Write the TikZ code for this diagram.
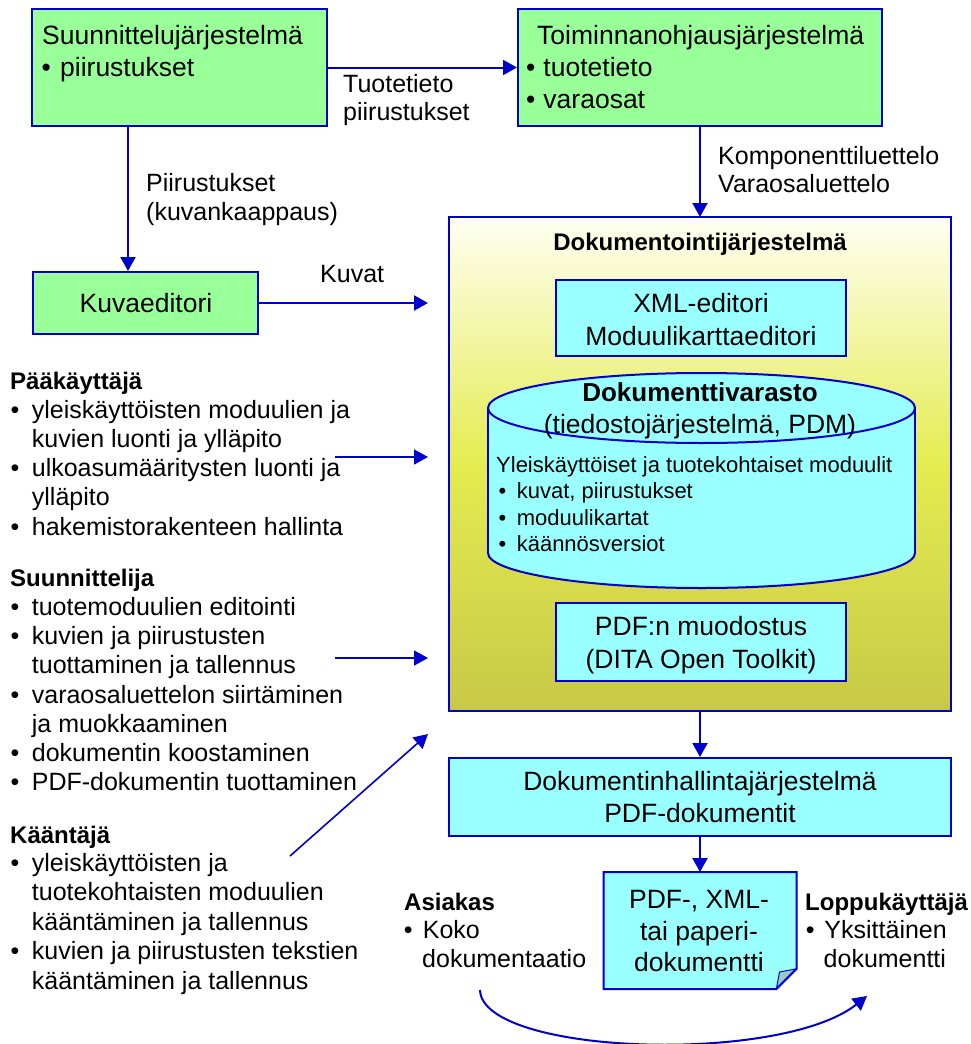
\documentclass[tikz,border=0pt]{standalone}
\usepackage{fontspec}
\setmainfont{Liberation Sans}
\usetikzlibrary{arrows.meta,calc}

\definecolor{lineblue}{RGB}{0,0,204}
\definecolor{boxgreen}{RGB}{153,255,153}
\definecolor{boxcyan}{RGB}{153,255,255}
\definecolor{gradtop}{RGB}{255,255,242}
\definecolor{gradmid}{RGB}{228,236,80}
\definecolor{gradbot}{RGB}{200,200,70}
\definecolor{foldteal}{RGB}{150,205,200}

\newcommand\setfs[1]{\fontsize{#1}{#1}\selectfont}
\newcommand\bulletbox[1]{\makebox[#1pt][l]{•}}

\begin{document}
\begin{tikzpicture}[x=1pt,y=-1pt,
  box/.style={draw=lineblue, line width=2pt, inner sep=0, rectangle},
  greenbox/.style={box, fill=boxgreen},
  cyanbox/.style={box, fill=boxcyan},
  flow/.style={draw=lineblue, line width=2pt, -{Triangle[length=14pt,width=15pt]}},
  thinflow/.style={draw=lineblue, line width=1.6pt, -{Triangle[length=14pt,width=15pt]}},
  txt/.style={inner sep=0, anchor=base west, font=\setfs{25}},
  boxtxt/.style={inner sep=0, anchor=base west, font=\setfs{26.5}},
  ctxt/.style={inner sep=0, anchor=base, font=\setfs{26.5}},
  head/.style={inner sep=0, anchor=base west, font=\setfs{24}\bfseries},
  small/.style={inner sep=0, anchor=base west, font=\setfs{22}},
]
\useasboundingbox (0,0) rectangle (971,1044);

% ---------- upper systems ----------
\node[greenbox, minimum width=295pt, minimum height=117pt] (suun) at (179.5,67.5) {};
\node[boxtxt] (suun1) at (42,44.3) {Suunnittelujärjestelmä};
\node[boxtxt] (suun2) at (41.3,76) {\bulletbox{18.7}piirustukset};

\node[greenbox, minimum width=364pt, minimum height=116.5pt] (toim) at (700,67.25) {};
\node[boxtxt] (toim1) at (537,44.3) {Toiminnanohjausjärjestelmä};
\node[boxtxt] (toim2) at (526,76.7) {\bulletbox{17.3}tuotetieto};
\node[boxtxt] (toim3) at (526,108.3) {\bulletbox{17.3}varaosat};

\node[greenbox, minimum width=225pt, minimum height=62pt] (kuva) at (145.5,303) {};
\node[ctxt] (kuvatxt) at (146,312.7) {Kuvaeditori};

% ---------- documentation system ----------
\node[inner sep=0, outer sep=0, minimum width=502pt, minimum height=494pt] (dok) at (700,464) {};
\fill[top color=gradtop, bottom color=gradmid] (dok.north west) rectangle (dok.east);
\fill[top color=gradmid, bottom color=gradbot] ([yshift=0.5pt]dok.west) rectangle (dok.south east);
\draw[lineblue, line width=2pt] (dok.north west) rectangle (dok.south east);
\node[inner sep=0, anchor=base, font=\setfs{24}\bfseries] (doktitle) at (700,250) {Dokumentointijärjestelmä};

\node[cyanbox, minimum width=290pt, minimum height=76pt] (xml) at (701,318) {};
\node[ctxt] (xml1) at (701,312.7) {XML-editori};
\node[ctxt] (xml2) at (701,345) {Moduulikarttaeditori};

% document store drawn as a cylinder
\begin{scope}[line width=2pt]
  \filldraw[fill=boxcyan, draw=lineblue] (701.5,553) ellipse [x radius=213.5, y radius=35];
  \fill[boxcyan] (488,408) rectangle (915,553);
  \draw[lineblue] (488,408) -- (488,553) (915,408) -- (915,553);
  \filldraw[fill=boxcyan, draw=lineblue] (701.5,408) ellipse [x radius=213.5, y radius=35];
\end{scope}
\node[inner sep=0, anchor=base, font=\setfs{26}\bfseries] (var1) at (700,401.7) {Dokumenttivarasto};
\node[ctxt] (var2) at (700,433.3) {(tiedostojärjestelmä, PDM)};
\node[small] (var3) at (496,472.7) {Yleiskäyttöiset ja tuotekohtaiset moduulit};
\node[small] (var4) at (498.5,498.5) {\bulletbox{18.1}kuvat, piirustukset};
\node[small] (var5) at (498.5,525.3) {\bulletbox{18.1}moduulikartat};
\node[small] (var6) at (498.5,551.7) {\bulletbox{18.1}käännösversiot};

\node[cyanbox, minimum width=290pt, minimum height=78pt] (pdf) at (701,642) {};
\node[ctxt] (pdf1) at (701,635.7) {PDF:n muodostus};
\node[ctxt] (pdf2) at (701,668.3) {(DITA Open Toolkit)};

% ---------- document management and output ----------
\node[cyanbox, minimum width=502pt, minimum height=78pt] (dh) at (700,797) {};
\node[ctxt] (dh1) at (700,790.7) {Dokumentinhallintajärjestelmä};
\node[ctxt] (dh2) at (700,822.7) {PDF-dokumentit};

\node[inner sep=0, outer sep=0, minimum width=193pt, minimum height=117pt] (doc) at (700,930.5) {};
\filldraw[fill=boxcyan, draw=lineblue, line width=2pt, line join=miter]
  (doc.north west) -- (doc.north east) -- ($(doc.south east)+(0,-20)$)
  -- ($(doc.south east)+(-20,0)$) -- (doc.south west) -- cycle;
\filldraw[fill=foldteal, draw=lineblue, line width=1pt]
  ($(doc.south east)+(-17,-17)$) -- ($(doc.south east)+(-1,-20)$)
  -- ($(doc.south east)+(-20,-1)$) -- cycle;
\node[ctxt] (doc1) at (699,908.3) {PDF-, XML-};
\node[ctxt] (doc2) at (699,940) {tai paperi-};
\node[ctxt] (doc3) at (699,971.7) {dokumentti};

\node[head] (as1) at (404,910.7) {Asiakas};
\node[txt] (as2) at (403.7,938.3) {\bulletbox{19}Koko};
\node[txt] (as3) at (422,967.7) {dokumentaatio};

\node[head] (lk1) at (805,910) {Loppukäyttäjä};
\node[txt] (lk2) at (805.7,938.3) {\bulletbox{18.6}Yksittäinen};
\node[txt] (lk3) at (823.5,967.3) {dokumentti};

% ---------- flow labels ----------
\node[txt] (lt1) at (343,92.7) {Tuotetieto};
\node[txt] (lt2) at (343,120) {piirustukset};
\node[txt] (lp1) at (146,191) {Piirustukset};
\node[txt] (lp2) at (146,220) {(kuvankaappaus)};
\node[txt] (lkv) at (320,282.7) {Kuvat};
\node[txt] (lv1) at (718,164) {Komponenttiluettelo};
\node[txt] (lv2) at (718,192.7) {Varaosaluettelo};

% ---------- user roles ----------
\node[head] (pk0) at (10,389.3) {Pääkäyttäjä};
\node[txt] (pk1) at (10.5,418) {\bulletbox{21.2}yleiskäyttöisten moduulien ja};
\node[txt] (pk2) at (31.7,447.3) {kuvien luonti ja ylläpito};
\node[txt] (pk3) at (10.5,476.6) {\bulletbox{21.2}ulkoasumääritysten luonti ja};
\node[txt] (pk4) at (31.7,505.9) {ylläpito};
\node[txt] (pk5) at (10.5,535.2) {\bulletbox{21.2}hakemistorakenteen hallinta};

\node[head] (su0) at (10,586.7) {Suunnittelija};
\node[txt] (su1) at (10.5,615) {\bulletbox{21.2}tuotemoduulien editointi};
\node[txt] (su2) at (10.5,644.3) {\bulletbox{21.2}kuvien ja piirustusten};
\node[txt] (su3) at (31.7,673.8) {tuottaminen ja tallennus};
\node[txt] (su4) at (10.5,703.2) {\bulletbox{21.2}varaosaluettelon siirtäminen};
\node[txt] (su5) at (31.7,732.6) {ja muokkaaminen};
\node[txt] (su6) at (10.5,761.8) {\bulletbox{21.2}dokumentin koostaminen};
\node[txt] (su7) at (10.5,790.6) {\bulletbox{21.2}PDF-dokumentin tuottaminen};

\node[head] (ka0) at (10,843.3) {Kääntäjä};
\node[txt] (ka1) at (10.5,871.7) {\bulletbox{21.2}yleiskäyttöisten ja};
\node[txt] (ka2) at (31.7,900.7) {tuotekohtaisten moduulien};
\node[txt] (ka3) at (31.7,930) {kääntäminen ja tallennus};
\node[txt] (ka4) at (10.5,959.3) {\bulletbox{21.2}kuvien ja piirustusten tekstien};
\node[txt] (ka5) at (31.7,989) {kääntäminen ja tallennus};

% ---------- connectors ----------
\draw[flow] (suun.east) -- (suun.east -| toim.west);
\draw[flow] ([xshift=97pt]suun.south west) -- ([xshift=97pt]suun.south west |- kuva.north);
\draw[flow] (toim.south) -- (dok.north);
\draw[flow] (kuva.east) -- ([xshift=-21pt]kuva.east -| dok.west);
\draw[flow] (dok.south) -- (dh.north);
\draw[flow] (dh.south) -- (doc.north);

\coordinate (pkfrom) at (335,457);
\coordinate (sufrom) at (335,658);
\coordinate (kafrom) at (290,856);
\coordinate (kato) at (428,734);
\draw[thinflow] (pkfrom) -- ([xshift=-21pt]pkfrom -| dok.west);
\draw[thinflow] (sufrom) -- ([xshift=-21pt]sufrom -| dok.west);
\draw[thinflow] (kafrom) -- (kato);

\coordinate (asfrom) at (480,990);
\coordinate (lkto) at (867,996);
\draw[flow] (asfrom) .. controls (482,1055) and (780,1065) .. (lkto);
\end{tikzpicture}
\end{document}
